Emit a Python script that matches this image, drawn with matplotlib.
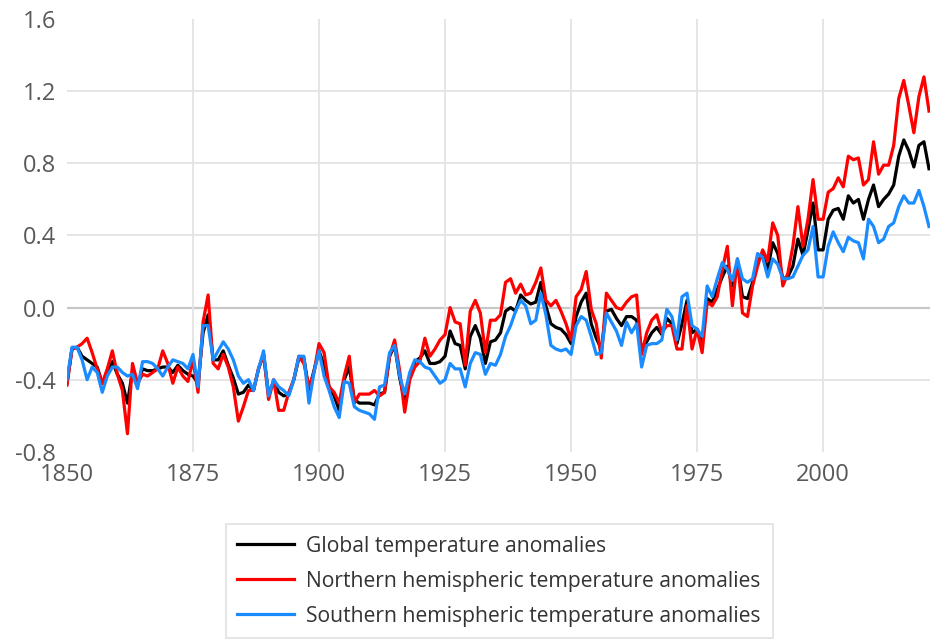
import matplotlib
matplotlib.use('Agg')
import matplotlib.pyplot as plt

plt.rcParams['font.family'] = ['Open Sans', 'DejaVu Sans']

# annual temperature anomalies
years = list(range(1850, 2022))

global_anom = [
    -0.42, -0.23, -0.22, -0.27, -0.29, -0.31, -0.33, -0.42, -0.37, -0.30,
    -0.37, -0.42, -0.53, -0.35, -0.43, -0.34, -0.35, -0.35, -0.34, -0.33,
    -0.33, -0.36, -0.32, -0.35, -0.37, -0.38, -0.42, -0.14, -0.04, -0.29,
    -0.29, -0.24, -0.32, -0.39, -0.48, -0.47, -0.43, -0.46, -0.34, -0.26,
    -0.48, -0.41, -0.47, -0.49, -0.48, -0.40, -0.28, -0.28, -0.46, -0.35,
    -0.24, -0.32, -0.44, -0.49, -0.57, -0.40, -0.33, -0.51, -0.53, -0.53,
    -0.53, -0.54, -0.48, -0.47, -0.27, -0.21, -0.39, -0.52, -0.38, -0.30,
    -0.28, -0.24, -0.31, -0.31, -0.30, -0.27, -0.13, -0.20, -0.21, -0.34,
    -0.16, -0.10, -0.17, -0.31, -0.19, -0.18, -0.14, -0.02, 0.00, -0.02,
    0.07, 0.04, 0.02, 0.03, 0.14, 0.01, -0.09, -0.11, -0.12, -0.15,
    -0.20, -0.05, 0.03, 0.08, -0.09, -0.17, -0.23, -0.02, -0.01, -0.06,
    -0.10, -0.05, -0.05, -0.07, -0.23, -0.19, -0.14, -0.11, -0.15, -0.06,
    -0.09, -0.20, -0.09, 0.04, -0.14, -0.12, -0.19, 0.05, 0.03, 0.10,
    0.17, 0.23, 0.12, 0.25, 0.06, 0.05, 0.14, 0.26, 0.29, 0.21,
    0.36, 0.30, 0.16, 0.17, 0.23, 0.38, 0.29, 0.43, 0.58, 0.32,
    0.32, 0.49, 0.54, 0.55, 0.49, 0.62, 0.58, 0.60, 0.49, 0.60,
    0.68, 0.56, 0.60, 0.63, 0.68, 0.84, 0.93, 0.87, 0.78, 0.90,
    0.92, 0.77,
]

north_anom = [
    -0.43, -0.23, -0.22, -0.20, -0.17, -0.25, -0.34, -0.42, -0.34, -0.24,
    -0.37, -0.46, -0.70, -0.31, -0.42, -0.37, -0.38, -0.36, -0.34, -0.24,
    -0.31, -0.42, -0.33, -0.38, -0.41, -0.29, -0.47, -0.08, 0.07, -0.31,
    -0.34, -0.26, -0.33, -0.44, -0.63, -0.55, -0.46, -0.46, -0.34, -0.26,
    -0.51, -0.40, -0.57, -0.57, -0.47, -0.40, -0.27, -0.31, -0.44, -0.36,
    -0.20, -0.25, -0.44, -0.47, -0.53, -0.38, -0.27, -0.53, -0.48, -0.48,
    -0.48, -0.46, -0.49, -0.47, -0.27, -0.18, -0.35, -0.58, -0.40, -0.33,
    -0.30, -0.17, -0.27, -0.23, -0.18, -0.15, 0.00, -0.08, -0.09, -0.32,
    -0.02, 0.04, -0.03, -0.25, -0.07, -0.07, -0.04, 0.14, 0.16, 0.08,
    0.13, 0.07, 0.08, 0.14, 0.22, 0.04, 0.01, 0.04, -0.02, -0.09,
    -0.18, 0.06, 0.10, 0.20, -0.01, -0.09, -0.28, 0.08, 0.04, 0.00,
    -0.01, 0.03, 0.06, 0.07, -0.26, -0.14, -0.07, -0.04, -0.14, -0.10,
    -0.10, -0.23, -0.23, 0.01, -0.23, -0.12, -0.25, 0.03, 0.01, 0.06,
    0.21, 0.34, 0.01, 0.27, -0.03, -0.05, 0.12, 0.23, 0.32, 0.26,
    0.47, 0.40, 0.12, 0.19, 0.34, 0.56, 0.34, 0.49, 0.71, 0.49,
    0.49, 0.64, 0.66, 0.72, 0.67, 0.84, 0.82, 0.83, 0.68, 0.71,
    0.92, 0.74, 0.79, 0.79, 0.90, 1.16, 1.26, 1.12, 0.97, 1.17,
    1.28, 1.09,
]

south_anom = [
    -0.40, -0.22, -0.22, -0.29, -0.40, -0.33, -0.36, -0.47, -0.38, -0.33,
    -0.33, -0.36, -0.38, -0.37, -0.45, -0.30, -0.30, -0.31, -0.34, -0.38,
    -0.33, -0.29, -0.30, -0.31, -0.34, -0.26, -0.44, -0.10, -0.10, -0.29,
    -0.24, -0.19, -0.23, -0.29, -0.38, -0.42, -0.40, -0.46, -0.34, -0.24,
    -0.49, -0.40, -0.44, -0.46, -0.49, -0.40, -0.27, -0.27, -0.53, -0.36,
    -0.24, -0.38, -0.46, -0.55, -0.61, -0.41, -0.42, -0.55, -0.57, -0.58,
    -0.59, -0.62, -0.44, -0.43, -0.25, -0.21, -0.38, -0.48, -0.36, -0.29,
    -0.30, -0.33, -0.34, -0.38, -0.42, -0.40, -0.31, -0.34, -0.34, -0.44,
    -0.31, -0.25, -0.26, -0.37, -0.31, -0.32, -0.26, -0.16, -0.10, -0.02,
    0.04, 0.01, -0.09, -0.07, 0.08, -0.04, -0.21, -0.23, -0.24, -0.23,
    -0.26, -0.10, -0.05, -0.07, -0.16, -0.26, -0.25, -0.03, -0.08, -0.13,
    -0.21, -0.08, -0.14, -0.09, -0.33, -0.21, -0.20, -0.20, -0.18, -0.01,
    -0.05, -0.18, 0.06, 0.08, -0.10, -0.12, -0.16, 0.12, 0.06, 0.16,
    0.25, 0.21, 0.15, 0.27, 0.16, 0.14, 0.16, 0.30, 0.28, 0.17,
    0.27, 0.24, 0.16, 0.16, 0.17, 0.23, 0.29, 0.32, 0.45, 0.17,
    0.17, 0.34, 0.42, 0.36, 0.31, 0.39, 0.37, 0.36, 0.27, 0.49,
    0.45, 0.36, 0.38, 0.45, 0.47, 0.56, 0.62, 0.58, 0.58, 0.65,
    0.56, 0.45,
]

y_ticks = [-0.8, -0.4, 0.0, 0.4, 0.8, 1.2, 1.6]
x_ticks = [1850, 1875, 1900, 1925, 1950, 1975, 2000]

fig = plt.figure(figsize=(9.3, 6.39), dpi=100)
ax = fig.add_axes([0.072, 0.293, 0.928, 0.677])

ax.plot(years, global_anom, color='black', lw=2.3, label='Global temperature anomalies')
ax.plot(years, north_anom, color='#ff0000', lw=2.3, label='Northern hemispheric temperature anomalies')
ax.plot(years, south_anom, color='#1a8cff', lw=2.3, label='Southern hemispheric temperature anomalies')

ax.set_xlim(1850, 2021.2)
ax.set_ylim(-0.8, 1.6)
ax.set_yticks(y_ticks)
ax.set_yticklabels(['%.1f' % v for v in y_ticks])
ax.set_xticks(x_ticks)
ax.tick_params(length=0, labelsize=17, labelcolor='#595959')
ax.tick_params(axis='y', pad=8)
ax.tick_params(axis='x', pad=8)

# gridlines: inner horizontal ones, zero line darker
for v in y_ticks[1:-1]:
    ax.axhline(v, color='#c8c8c8' if v == 0 else '#e3e3e3', lw=1.6 if v == 0 else 1.3, zorder=0)
for x in x_ticks[1:]:
    ax.axvline(x, color='#e3e3e3', lw=1.3, zorder=0)

for s in ax.spines.values():
    s.set_visible(False)

leg = fig.legend(loc='upper center', bbox_to_anchor=(0.5366, 0.18), fontsize=15.2,
                 frameon=True, fancybox=False, handlelength=2.7, handletextpad=0.58,
                 labelspacing=0.67, borderpad=0.55, borderaxespad=0)
leg.get_frame().set_edgecolor('#d9d9d9')
leg.get_frame().set_linewidth(1.2)
for t in leg.get_texts():
    t.set_color('#333333')

fig.savefig('out.png', dpi=100)
